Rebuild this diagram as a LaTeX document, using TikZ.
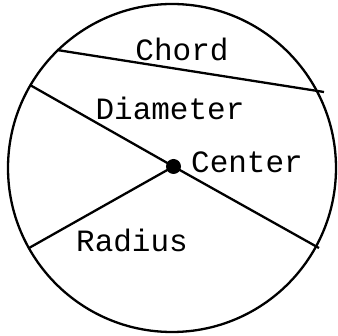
\documentclass[tikz,border=0pt]{standalone}
\usepackage{fontspec}
\setmonofont{Liberation Mono}
\usepackage{tikz}
\usetikzlibrary{positioning, calc}

\begin{document}
\begin{tikzpicture}[
  x=1pt, y=-1pt,
  edge/.style={line width=2.3pt, draw=black},
  lbl/.style={font=\ttfamily\fontsize{31}{31}\selectfont, inner sep=0pt, anchor=base},
  dot/.style={circle, fill=black, inner sep=0pt, minimum size=15pt}
]
\useasboundingbox (0,0) rectangle (338,336);

% Circle and points on it
\coordinate (mid) at (172,168);
\draw[edge] (mid) circle (164);
\node[dot] (center) at (173.5,166.5) {};
\coordinate (chordA) at (57,50);
\coordinate (chordB) at (324,92);
\coordinate (diamA) at (30,85);
\coordinate (diamB) at (319,248);
\coordinate (radEnd) at (29,248);

% Segments
\draw[edge] (chordA) -- (chordB);
\draw[edge] (diamA) -- (center.center) -- (diamB);
\draw[edge] (center.center) -- (radEnd);

% Labels
\node[lbl] (chordlbl) at (182,61) {Chord};
\node[lbl] (diamlbl) at (170,120) {Diameter};
\node[lbl] (centerlbl) at (247,173) {Center};
\node[lbl] (radlbl) at (132,252) {Radius};

\end{tikzpicture}
\end{document}
